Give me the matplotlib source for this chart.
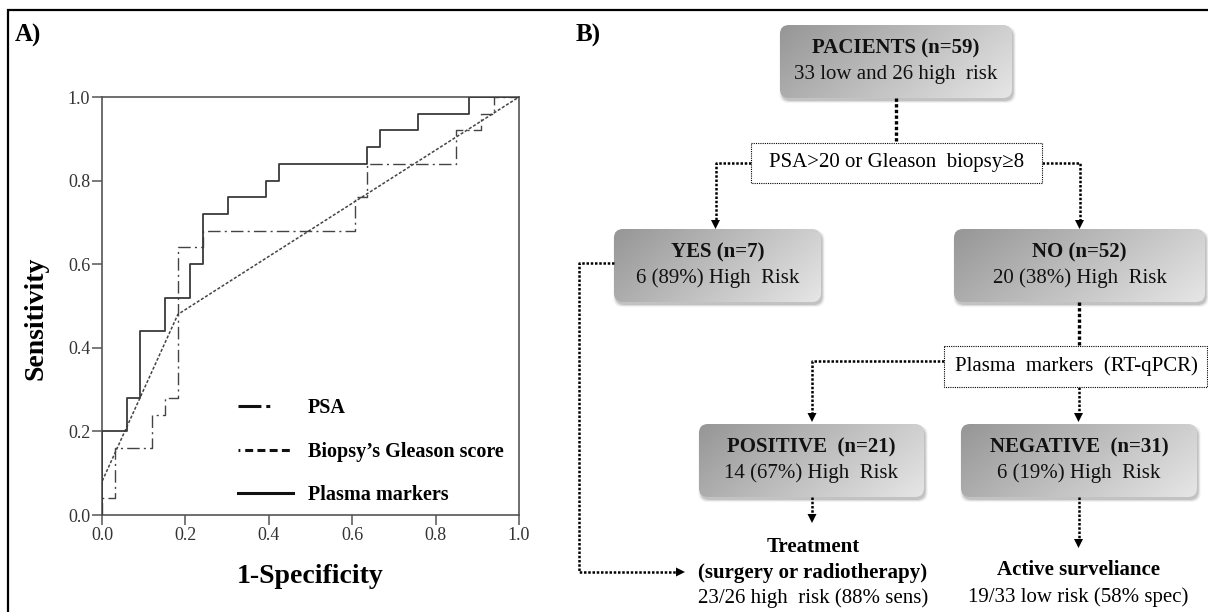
import numpy as np
import matplotlib
matplotlib.use("Agg")
import matplotlib.pyplot as plt
from matplotlib.patches import FancyBboxPatch, Polygon
from matplotlib.lines import Line2D
from matplotlib.colors import LinearSegmentedColormap

# ---------------- Panel A data: ROC curves (1-specificity, sensitivity) ----------------
psa_fpr = [0.0, 0.0, 0.030, 0.121, 0.152, 0.182, 0.242, 0.606, 0.636, 0.848, 0.909, 0.939, 1.0]
psa_tpr = [0.0, 0.04, 0.16, 0.24, 0.28, 0.64, 0.68, 0.76, 0.84, 0.92, 0.96, 1.00, 1.00]

gleason_fpr = [0.0, 0.0, 0.182, 1.0]
gleason_tpr = [0.0, 0.08, 0.48, 1.0]

plasma_fpr = [0.0, 0.0, 0.061, 0.091, 0.152, 0.212, 0.242, 0.303, 0.394, 0.424,
              0.636, 0.667, 0.758, 0.879, 1.0]
plasma_tpr = [0.0, 0.20, 0.28, 0.44, 0.52, 0.60, 0.72, 0.76, 0.80, 0.84,
              0.88, 0.92, 0.96, 1.00, 1.00]

legend_labels = ["PSA", "Biopsy\u2019s Gleason score", "Plasma markers"]
tick_values = [0.0, 0.2, 0.4, 0.6, 0.8, 1.0]
tick_labels = ["0.0", "0.2", "0.4", "0.6", "0.8", "1.0"]

# ---------------- Panel B data: flowchart texts ----------------
box_titles = ["PACIENTS (n=59)", "YES (n=7)", "NO (n=52)", "POSITIVE  (n=21)", "NEGATIVE  (n=31)"]
box_subtitles = ["33 low and 26 high  risk", "6 (89%) High  Risk", "20 (38%) High  Risk",
                 "14 (67%) High  Risk", "6 (19%) High  Risk"]
decision_labels = ["PSA>20 or Gleason  biopsy\u22658", "Plasma  markers  (RT-qPCR)"]
outcome_titles = [["Treatment", "(surgery or radiotherapy)"], ["Active surveliance"]]
outcome_subtitles = ["23/26 high  risk (88% sens)", "19/33 low risk (58% spec)"]

SERIF = ["Liberation Serif", "DejaVu Serif"]
plt.rcParams["font.family"] = SERIF

W, H = 1208, 612
fig = plt.figure(figsize=(W / 100, H / 100), dpi=100)

# ---------------- overlay axes in pixel coordinates (frame + flowchart) ----------------
axf = fig.add_axes([0, 0, 1, 1], zorder=0)
axf.set_axis_off()

# outer frame (left and top edges)
axf.plot([7.5, 7.5, W + 5], [H + 5, 10, 10], color="black", lw=1.6, solid_joinstyle="miter")

cmap = LinearSegmentedColormap.from_list("boxgrad", ["#969696", "#e6e6e6"])


def grad_box(ax, x0, y0, x1, y1):
    w, h = x1 - x0, y1 - y0
    for k, a in enumerate([0.10, 0.07, 0.05, 0.03]):
        sh = FancyBboxPatch((x0 + 1.5 - k * 0.8, y0 + 3 - k * 0.5), w + k * 1.6, h + k * 1.2,
                            boxstyle="round,pad=0,rounding_size=9",
                            fc="black", ec="none", alpha=a, zorder=1)
        ax.add_patch(sh)
    patch = FancyBboxPatch((x0, y0), w, h, boxstyle="round,pad=0,rounding_size=9",
                           fc="none", ec="none", zorder=2)
    ax.add_patch(patch)
    u = np.linspace(0, 1, 240)
    v = np.linspace(0, 1, 80)
    U, V = np.meshgrid(u, v)
    g = 0.72 * U + 0.28 * V
    im = ax.imshow(g, extent=[x0, x1, y1, y0], cmap=cmap, vmin=0, vmax=1,
                   aspect="auto", interpolation="bilinear", zorder=2)
    im.set_clip_path(patch)


def plain_box(ax, x0, y0, x1, y1):
    ax.add_patch(FancyBboxPatch((x0, y0), x1 - x0, y1 - y0, boxstyle="square,pad=0",
                                fc="white", ec="black", lw=0.8, ls=(0, (1, 1)), zorder=3))


def dotted(ax, xs, ys, lw=1.7):
    ax.plot(xs, ys, color="black", lw=lw, ls=(0, (1.0, 0.7)), zorder=2,
            solid_capstyle="butt", dash_capstyle="butt")


def head(ax, x, y, direction="down", s=9):
    if direction == "down":
        pts = [(x - s / 2, y - s), (x + s / 2, y - s), (x, y)]
    else:
        pts = [(x - s, y - s / 2), (x - s, y + s / 2), (x, y)]
    ax.add_patch(Polygon(pts, closed=True, fc="black", ec="none", zorder=4))


# gradient boxes: PACIENTS, YES, NO, POSITIVE, NEGATIVE
boxes = [(780, 25, 1012, 98), (614, 229, 821, 302), (954, 229, 1205, 302),
         (699, 424, 924, 497), (961, 424, 1197, 497)]
for (x0, y0, x1, y1), t, s in zip(boxes, box_titles, box_subtitles):
    grad_box(axf, x0, y0, x1, y1)
    cx = (x0 + x1) / 2
    axf.text(cx, y0 + 23, t, ha="center", va="center", fontsize=15, fontweight="bold",
             color="#111111", zorder=5)
    axf.text(cx, y0 + 49, s, ha="center", va="center", fontsize=15,
             color="#111111", zorder=5)

# decision boxes
plain_box(axf, 751, 143, 1042, 183)
axf.text(896.5, 163, decision_labels[0], ha="center", va="center", fontsize=15, zorder=5)
plain_box(axf, 944, 346, 1207, 387)
axf.text(1076, 366.5, decision_labels[1], ha="center", va="center", fontsize=15, zorder=5)

# connectors
dotted(axf, [896, 896], [98, 143], lw=2.4)
dotted(axf, [751, 715.5, 715.5], [163, 163, 221], lw=1.8)
head(axf, 715.5, 229)
dotted(axf, [1042, 1079.5, 1079.5], [163, 163, 221], lw=1.8)
head(axf, 1079.5, 229)
dotted(axf, [1078.5, 1078.5], [302, 346], lw=2.4)
dotted(axf, [944, 812, 812], [361, 361, 414], lw=1.8)
head(axf, 812, 422)
dotted(axf, [1078.5, 1078.5], [387, 414], lw=1.8)
head(axf, 1078.5, 422)
dotted(axf, [812, 812], [497, 515], lw=1.8)
head(axf, 812, 523)
dotted(axf, [1078.5, 1078.5], [497, 540], lw=1.8)
head(axf, 1078.5, 548)
dotted(axf, [614, 579, 579, 676], [263, 263, 572, 572], lw=1.8)
head(axf, 685, 572, direction="right")

# outcome texts
axf.text(813, 546.5, outcome_titles[0][0], ha="center", va="center", fontsize=15,
         fontweight="bold", zorder=5)
axf.text(813, 573, outcome_titles[0][1], ha="center", va="center", fontsize=15,
         fontweight="bold", zorder=5)
axf.text(813, 598.5, outcome_subtitles[0], ha="center", va="center", fontsize=15, zorder=5)
axf.text(1078.5, 570, outcome_titles[1][0], ha="center", va="center", fontsize=15,
         fontweight="bold", zorder=5)
axf.text(1078.5, 597, outcome_subtitles[1], ha="center", va="center", fontsize=15, zorder=5)

# panel labels
axf.text(15, 35, "A)", ha="left", va="center", fontsize=18, fontweight="bold")
axf.text(576, 35, "B)", ha="left", va="center", fontsize=18, fontweight="bold")

axf.set_xlim(0, W)
axf.set_ylim(H, 0)

# ---------------- Panel A: ROC axes ----------------
ax = fig.add_axes([102 / W, 1 - 515 / H, 417 / W, 418 / H], zorder=1)
ax.patch.set_alpha(0)
ax.plot(gleason_fpr, gleason_tpr, color="#444444", lw=1.1, ls=(0, (2.0, 1.2)), zorder=2)
ax.step(psa_fpr, psa_tpr, where="post", color="#444444", lw=1.0,
        ls=(0, (9, 3, 1.5, 3)), zorder=3)
ax.step(plasma_fpr, plasma_tpr, where="post", color="#3a3a3a", lw=1.3, zorder=4)

ax.set_xlim(0, 1)
ax.set_ylim(0, 1)
ax.set_xticks(tick_values)
ax.set_xticklabels(tick_labels)
ax.set_yticks(tick_values)
ax.set_yticklabels(tick_labels)
ax.tick_params(direction="out", length=7, width=1.1, color="#555555",
               labelsize=13, labelcolor="#333333", pad=1.5)
for sp in ax.spines.values():
    sp.set_color("#555555")
    sp.set_linewidth(1.2)

ax.set_xlabel("1-Specificity", fontsize=20, fontweight="bold")
ax.xaxis.set_label_coords(0.5, -0.118)
ax.set_ylabel("Sensitivity", fontsize=20, fontweight="bold", va="center")
ax.yaxis.set_label_coords(-0.158, 0.47)

handles = [
    Line2D([], [], color="#111111", lw=2.2, ls=(0, (7.5, 1.6, 1.3, 20))),
    Line2D([], [], color="#111111", lw=2.2,
           ls=(0, (0.6, 1.6, 2.6, 1.4, 2.6, 1.4, 2.6, 1.4, 2.6, 1.4))),
    Line2D([], [], color="#111111", lw=2.2),
]
leg = ax.legend(handles, legend_labels, loc="lower left", bbox_to_anchor=(0.283, -0.02),
                frameon=False, handlelength=2.7, handletextpad=0.75, labelspacing=1.17,
                prop={"family": SERIF, "weight": "bold", "size": 14.5})

fig.savefig("out.png", dpi=100)
